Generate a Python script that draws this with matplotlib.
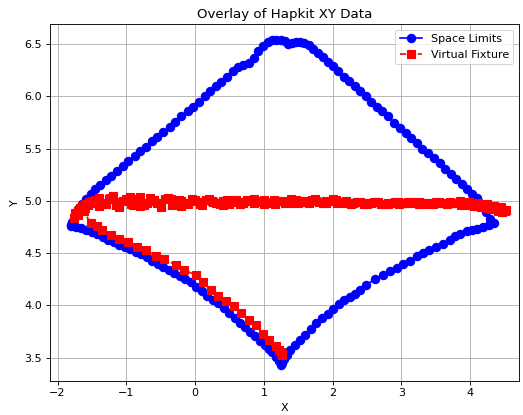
import matplotlib
matplotlib.use("Agg")
import matplotlib.pyplot as plt

# Space Limits (blue) trajectory
space_x = [
    -1.81, -1.79, -1.75, -1.70, -1.64, -1.58, -1.52, -1.45, -1.38, -1.30,
    -1.22, -1.13, -1.05, -0.97, -0.88, -0.80, -0.72, -0.63, -0.55, -0.46,
    -0.37, -0.29, -0.20, -0.11, -0.03, 0.06, 0.14, 0.22, 0.30, 0.38,
    0.46, 0.55, 0.62, 0.70, 0.79, 0.85, 0.92, 0.99, 1.06, 1.12,
    1.18, 1.25, 1.30, 1.35, 1.41, 1.47, 1.53, 1.59, 1.65, 1.71,
    1.78, 1.86, 1.93, 2.00, 2.08, 2.16, 2.24, 2.32, 2.40, 2.48,
    2.56, 2.64, 2.72, 2.80, 2.89, 2.98, 3.06, 3.14, 3.22, 3.30,
    3.38, 3.47, 3.56, 3.64, 3.72, 3.80, 3.88, 3.95, 4.02, 4.10,
    4.17, 4.23, 4.29, 4.34, 4.27, 4.19, 4.10, 4.02, 3.95, 3.85,
    3.78, 3.71, 3.60, 3.50, 3.40, 3.32, 3.22, 3.12, 3.03, 2.93,
    2.83, 2.73, 2.62, 2.49, 2.40, 2.32, 2.25, 2.17, 2.09, 2.01,
    1.93, 1.85, 1.76, 1.68, 1.60, 1.52, 1.45, 1.38, 1.33, 1.29,
    1.26, 1.25, 1.22, 1.17, 1.12, 1.07, 1.01, 0.94, 0.87, 0.80,
    0.73, 0.66, 0.58, 0.50, 0.42, 0.34, 0.26, 0.18, 0.10, 0.02,
    -0.06, -0.14, -0.22, -0.30, -0.38, -0.46, -0.54, -0.62, -0.70, -0.78,
    -0.86, -0.94, -1.02, -1.10, -1.18, -1.26, -1.34, -1.42, -1.50, -1.58,
    -1.66, -1.73, -1.79, -1.81,
]
space_y = [
    4.76, 4.80, 4.86, 4.92, 4.97, 5.02, 5.07, 5.11, 5.15, 5.20,
    5.24, 5.29, 5.33, 5.38, 5.43, 5.48, 5.52, 5.57, 5.61, 5.66,
    5.71, 5.76, 5.81, 5.86, 5.90, 5.95, 6.00, 6.05, 6.10, 6.14,
    6.19, 6.24, 6.28, 6.30, 6.32, 6.37, 6.43, 6.48, 6.52, 6.54,
    6.54, 6.54, 6.53, 6.50, 6.51, 6.52, 6.52, 6.51, 6.49, 6.45,
    6.42, 6.38, 6.33, 6.29, 6.24, 6.19, 6.15, 6.10, 6.05, 6.00,
    5.95, 5.90, 5.86, 5.81, 5.75, 5.70, 5.65, 5.60, 5.55, 5.50,
    5.46, 5.41, 5.36, 5.31, 5.26, 5.21, 5.16, 5.11, 5.07, 5.03,
    4.96, 4.89, 4.83, 4.79, 4.77, 4.75, 4.73, 4.72, 4.71, 4.68,
    4.66, 4.63, 4.59, 4.56, 4.53, 4.50, 4.47, 4.43, 4.40, 4.36,
    4.33, 4.29, 4.25, 4.20, 4.15, 4.11, 4.08, 4.05, 4.01, 3.97,
    3.92, 3.88, 3.83, 3.77, 3.72, 3.67, 3.62, 3.57, 3.53, 3.49,
    3.45, 3.43, 3.47, 3.51, 3.55, 3.58, 3.62, 3.66, 3.71, 3.75,
    3.79, 3.83, 3.88, 3.93, 3.98, 4.02, 4.05, 4.09, 4.14, 4.18,
    4.22, 4.25, 4.28, 4.31, 4.34, 4.37, 4.40, 4.43, 4.46, 4.49,
    4.51, 4.54, 4.56, 4.58, 4.61, 4.63, 4.655, 4.68, 4.70, 4.725,
    4.74, 4.755, 4.765, 4.77,
]

# Virtual Fixture (red) trajectory
fixture_x = [
    1.26, 1.27, 1.25, 1.22, 1.18, 1.08, 0.99, 0.89, 0.79, 0.67,
    0.57, 0.45, 0.34, 0.23, 0.12, 0.01, -0.16, -0.28, -0.45, -0.57,
    -0.71, -0.84, -0.98, -1.10, -1.22, -1.35, -1.43, -1.52,
    -1.62, -1.76, -1.74, -1.71, -1.68, -1.64, -1.60, -1.55,
    -1.50, -1.40, -1.30, -1.20, -1.10, -1.00, -0.90, -0.80, -0.70, -0.60,
    -0.50, -0.40, -0.30, -0.20, -0.10, 0.00, 0.10, 0.20, 0.30, 0.40,
    0.50, 0.60, 0.70, 0.80, 0.90, 1.00, 1.10, 1.20, 1.30, 1.40,
    1.50, 1.60, 1.70, 1.80, 1.90, 2.00, 2.10, 2.20, 2.30, 2.40,
    2.50, 2.60, 2.70, 2.80, 2.90, 3.00, 3.10, 3.20, 3.30, 3.40,
    3.50, 3.60, 3.70, 3.80, 3.90, 4.00, 4.10, 4.20, 4.30, 4.40,
    4.48, 4.52,
    4.45, 4.35, 4.25, 4.12, 3.98, 3.85, 3.70, 3.55, 3.40, 3.25,
    3.10, 2.95, 2.80, 2.65, 2.50, 2.35, 2.20, 2.05, 1.90, 1.75,
    1.60, 1.45, 1.30, 1.15, 1.00, 0.85, 0.70, 0.55, 0.40, 0.25,
    0.10, -0.05, -0.20, -0.35, -0.50, -0.65, -0.80, -0.95, -1.10, -1.25,
    -1.40, -1.52, -1.60, -1.66, -1.70,
    -1.63, -1.56, -1.46, -1.34, -1.24, -1.15, -1.05, -0.93, -0.84, -0.75,
    -0.64, -0.55, -0.44, -0.33, -0.24, -0.14, -0.03, 0.07, 0.16, 0.26,
    0.36, 0.46, 0.56, 0.66, 0.76, 0.86, 0.96, 1.06, 1.16, 1.26,
    1.36, 1.46, 1.56, 1.66, 1.76, 1.86, 1.96, 2.06, 2.16, 2.26,
    2.36, 2.46, 2.56, 2.66, 2.76, 2.86, 2.96, 3.06, 3.16, 3.26,
    3.36, 3.46, 3.56, 3.66, 3.76, 3.86, 3.96, 4.06, 4.16, 4.26,
    4.34, 4.40, 4.46, 4.50,
]
fixture_y = [
    3.54, 3.53, 3.55, 3.57, 3.61, 3.67, 3.73, 3.81, 3.86, 3.93,
    3.99, 4.04, 4.09, 4.15, 4.22, 4.29, 4.34, 4.39, 4.44, 4.47,
    4.53, 4.56, 4.61, 4.64, 4.67, 4.72, 4.76, 4.79,
    4.90, 4.84, 4.88, 4.90, 4.93, 4.95, 4.97, 4.99,
    5.00, 5.03, 4.97, 5.05, 4.99, 5.02, 4.96, 5.04, 4.98, 5.01,
    4.97, 5.03, 4.99, 5.00, 4.97, 5.01, 4.99, 5.02, 4.98, 5.00,
    4.97, 5.01, 4.98, 5.00, 4.99, 5.01, 4.98, 5.00, 4.99, 5.02,
    4.98, 5.00, 5.01, 4.99, 5.00, 5.02, 4.99, 5.00, 4.98, 4.99,
    4.98, 4.99, 4.97, 4.98, 4.99, 4.98, 4.99, 4.98, 4.97, 4.98,
    4.99, 4.98, 4.99, 4.98, 4.97, 4.96, 4.95, 4.94, 4.92, 4.91,
    4.90, 4.91,
    4.94, 4.95, 4.97, 4.98, 4.99, 5.00, 4.98, 4.99, 4.97, 4.99,
    4.98, 4.99, 4.97, 4.99, 4.97, 4.99, 4.98, 5.01, 4.98, 5.02,
    4.99, 5.00, 4.98, 5.01, 4.97, 5.02, 4.99, 5.01, 4.96, 5.00,
    4.96, 5.02, 4.95, 5.02, 4.94, 5.03, 4.95, 5.04, 4.94, 5.02,
    4.95, 4.98, 4.93, 4.90, 4.87,
    4.92, 4.96, 5.01, 4.98, 5.03, 4.96, 5.00, 4.97, 5.02, 4.96,
    5.00, 4.98, 5.02, 4.96, 5.01, 4.98, 5.00, 4.97, 5.01, 4.99,
    4.97, 5.01, 4.99, 4.97, 5.01, 4.98, 5.00, 4.99, 4.97, 5.00,
    4.98, 5.01, 4.99, 4.98, 5.00, 4.98, 5.00, 4.98, 4.99, 4.97,
    4.99, 4.97, 4.98, 4.99, 4.97, 4.98, 4.97, 4.98, 4.99, 4.97,
    4.98, 4.97, 4.98, 4.97, 4.98, 4.96, 4.96, 4.95, 4.94, 4.93,
    4.92, 4.90, 4.89, 4.90,
]

fig = plt.figure(figsize=(523 / 80, 415 / 80), dpi=80)
ax = fig.add_axes([50 / 523, 1 - 380.7 / 415, (519 - 50) / 523, (380.7 - 24.3) / 415])

ax.plot(space_x, space_y, "o-", color="blue", markersize=7.5, label="Space Limits")
ax.plot(fixture_x, fixture_y, "s--", color="red", markersize=7, label="Virtual Fixture")

ax.set_xlim(-2.11, 4.71)
ax.set_ylim(3.28, 6.69)
ax.set_title("Overlay of Hapkit XY Data")
ax.set_xlabel("X")
ax.set_ylabel("Y")
ax.grid(True)
ax.legend(loc="upper right")

fig.savefig("out.png", dpi=80)
